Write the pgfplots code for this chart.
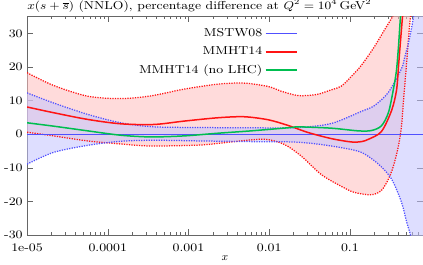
\documentclass[border=0pt]{standalone}
\usepackage{fontspec}
\setmainfont{Latin Modern Roman}[FakeStretch=1.17]
\newfontfamily\plainlm{Latin Modern Roman}
\usepackage{pgfplots}
\pgfplotsset{compat=1.18}
\usepgfplotslibrary{fillbetween}
\definecolor{mred}{RGB}{255,20,20}
\definecolor{mblue}{RGB}{80,80,255}
\definecolor{mgreen}{RGB}{0,190,80}
\definecolor{redfill}{RGB}{255,190,190}
\definecolor{bluefill}{RGB}{195,195,255}
\begin{document}
\begin{tikzpicture}[font=\fontsize{9.2}{11}\selectfont]
\begin{axis}[
  scale only axis, width=315bp, height=174bp,
  clip mode=individual,
  xmode=log, xmin=1e-5, xmax=0.8, ymin=-30, ymax=35,
  xtick={1e-5,1e-4,1e-3,1e-2,1e-1},
  xticklabels={1e-05,0.0001,0.001,0.01,0.1},
  minor xtick={2e-5,3e-5,4e-5,5e-5,6e-5,7e-5,8e-5,9e-5,
    2e-4,3e-4,4e-4,5e-4,6e-4,7e-4,8e-4,9e-4,
    2e-3,3e-3,4e-3,5e-3,6e-3,7e-3,8e-3,9e-3,
    0.02,0.03,0.04,0.05,0.06,0.07,0.08,0.09,
    0.2,0.3,0.4,0.5,0.6,0.7},
  ytick={-30,-20,-10,0,10,20,30},
  yticklabels={-30,-20,-10,0,10,20,30},
  xticklabel style={yshift=-3.5bp},
  tick align=inside,
  major tick length=4.5bp, minor tick length=2.3bp,
  axis line style={black!60},
  every tick/.style={black!60},
  xlabel={$x$},
  xlabel style={yshift=4bp},
  legend plot pos=right,
  legend cell align=right,
  legend style={at={(axis description cs:0.694,0.968)}, anchor=north east, draw=none, fill=none, row sep=2.5pt},
  legend image code/.code={\draw[#1] (0cm,0cm) -- (0.88cm,0cm);},
]
% MMHT14 band
\addplot[name path=ru, smooth, mred, line width=1pt, dash pattern=on 1pt off 1pt, forget plot] coordinates {
 (1e-5,18.3) (2.13e-5,14.5) (5.65e-5,11.3) (1.45e-4,10.6) (3.42e-4,11.4) (8.79e-4,13.4)
 (2.32e-3,14.9) (4.89e-3,15.2) (9.72e-3,14.2) (0.0141,12.8) (0.0229,11.5) (0.0384,11.8)
 (0.0589,13.2) (0.0784,14.3) (0.1044,17.2) (0.139,20.5) (0.201,26) (0.268,31) (0.347,35.5)
 (0.412,40) (0.5,48) (0.8,65)};
\addplot[name path=rl, smooth, mred, line width=1pt, dash pattern=on 1pt off 1pt, forget plot] coordinates {
 (1e-5,0.6) (2.13e-5,-0.5) (5.65e-5,-2.0) (1.45e-4,-2.9) (3.42e-4,-3.5) (1.43e-3,-3.2)
 (3.37e-3,-2.3) (8.66e-3,-1.5) (0.0153,-3.0) (0.0250,-6.5) (0.0443,-12) (0.0784,-15.5)
 (0.1138,-17.3) (0.185,-18) (0.246,-16.7) (0.301,-13.3) (0.347,-9.4) (0.400,-3.5)
 (0.436,2.4) (0.462,10) (0.504,21) (0.548,32) (0.58,38) (0.65,50) (0.8,70)};
\addplot[redfill, fill opacity=0.55, forget plot] fill between[of=ru and rl];
% MSTW08 band
\addplot[name path=bu, smooth, mblue, line width=1pt, dash pattern=on 1pt off 1pt, forget plot] coordinates {
 (1e-5,12.3) (2.13e-5,9.3) (5.65e-5,5.9) (1.45e-4,3.4) (3.73e-4,2.2) (1.43e-3,2.0)
 (5.97e-3,1.9) (0.0229,2.0) (0.0589,3.2) (0.139,6.8) (0.201,8.5) (0.301,12.5)
 (0.436,19.5) (0.476,22.7) (0.548,28.5) (0.615,35) (0.689,43) (0.8,55)};
\addplot[name path=bl, smooth, mblue, line width=1pt, dash pattern=on 1pt off 1pt, forget plot] coordinates {
 (1e-5,-8.9) (2.13e-5,-5.4) (5.65e-5,-3.3) (1.45e-4,-2.1) (3.73e-4,-1.8) (1.43e-3,-2.0)
 (5.97e-3,-2.2) (0.0188,-2.3) (0.0362,-2.8) (0.0784,-4.0) (0.139,-5.4) (0.226,-8.9)
 (0.328,-13.3) (0.436,-20.2) (0.504,-26) (0.564,-30) (0.633,-36) (0.8,-50)};
\addplot[bluefill, fill opacity=0.55, forget plot] fill between[of=bu and bl];
% central lines
\addplot[mblue, line width=0.8pt] coordinates {(1e-5,0) (0.8,0)};
\addlegendentry{MSTW08}
\addplot[mred, smooth, line width=1.2pt] coordinates {
 (1e-5,8.1) (2.13e-5,6.4) (5.65e-5,4.4) (1.45e-4,3.1) (3.73e-4,2.9) (8.79e-4,3.9)
 (2.32e-3,4.9) (4.89e-3,5.2) (9.72e-3,4.3) (0.0172,2.6) (0.0305,0.5) (0.0589,-1.3)
 (0.1044,-2.3) (0.139,-2.2) (0.170,-1.5) (0.246,0.8) (0.328,7) (0.378,13) (0.400,20)
 (0.412,24) (0.449,35) (0.489,45)};
\addlegendentry{MMHT14}
\addplot[mgreen, smooth, line width=1.2pt] coordinates {
 (1e-5,3.4) (2.13e-5,2.4) (5.65e-5,1.0) (1.45e-4,-0.3) (3.42e-4,-0.8) (8.79e-4,-0.5)
 (2.32e-3,0.3) (5.97e-3,1.0) (0.0188,2.0) (0.0229,2.2) (0.0589,1.8) (0.127,1.0)
 (0.185,1.1) (0.246,2.5) (0.301,6.5) (0.347,13.5) (0.378,19) (0.400,26) (0.424,35) (0.46,45)};
\addlegendentry{MMHT14 (no LHC)}
\node[anchor=base west, inner sep=0pt, yshift=5.5bp] at (rel axis cs:0,1)
  {\resizebox{274bp}{\height}{\plainlm $x(s+\overline{s})$ (NNLO), percentage difference at $Q^2 = 10^4$\,GeV$^2$}};
\end{axis}
\end{tikzpicture}
\end{document}
